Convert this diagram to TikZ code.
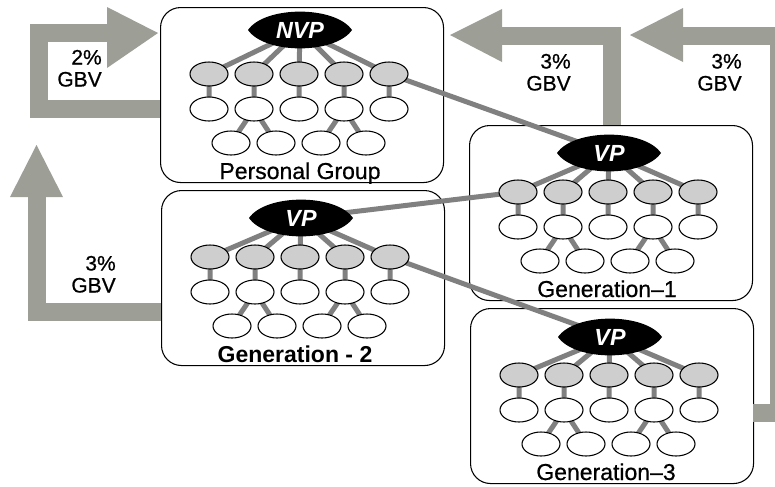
\documentclass[tikz,border=0pt]{standalone}
\usepackage{fontspec}
\setmainfont{Liberation Sans}
\newfontfamily\heavyfont[FakeBold=0.7]{Liberation Sans}
\usetikzlibrary{shapes.geometric}
\pgfdeclarelayer{boxes}
\pgfdeclarelayer{links}
\pgfsetlayers{boxes,links,main}
\definecolor{bandgray}{RGB}{157,158,150}
\definecolor{linkgray}{RGB}{128,128,128}
\definecolor{nodegray}{RGB}{206,206,206}
\newcommand\mytree[7]{%
 \begin{scope}[shift={(#2,#3)}]
  \begin{pgfonlayer}{boxes}
   \node[groupbox] (#1box) at (0,0) {};
  \end{pgfonlayer}
  \begin{scope}[shift={(140,#7)}]
   \fill[black] (-52,0) .. controls (-35,-24.5) and (35,-24.5) .. (52,0)
                        .. controls (35,24.5) and (-35,24.5) .. cycle;
  \end{scope}
  \node[vpnode] (#1vp) at (140,#7) {#4};
  \foreach \k in {1,...,5} {
    \node[graynode] (#1g\k) at ({4+45*\k},67) {};
    \node[whitenode] (#1w\k) at ({4+45*\k},102) {};
  }
  \foreach \k in {1,...,4} {\node[whitenode] (#1t\k) at ({26+45*\k},136) {};}
  \node[grouplabel] (#1lab) at (#6,172) {#5};
  \begin{pgfonlayer}{links}
   \foreach \k in {1,...,5} {\draw[link] (#1vp.center) -- (#1g\k.center) (#1g\k.center) -- (#1w\k.center);}
   \draw[link] (#1w2.center) -- (#1t1.center) (#1w2.center) -- (#1t2.center)
               (#1w4.center) -- (#1t3.center) (#1w4.center) -- (#1t4.center);
  \end{pgfonlayer}
 \end{scope}}
\begin{document}
\begin{tikzpicture}[x=0.75pt,y=-0.75pt,
  groupbox/.style={draw=black,line width=0.8pt,rounded corners=15pt,minimum width=212.25pt,minimum height=131.25pt,anchor=north west,inner sep=0pt},
  vpnode/.style={ellipse,minimum width=76.5pt,minimum height=27pt,inner sep=0pt,text=white,font=\fontsize{17.5pt}{18pt}\selectfont\bfseries\itshape},
  graynode/.style={ellipse,draw=black,line width=0.8pt,fill=nodegray,minimum width=28.5pt,minimum height=18pt,inner sep=0pt},
  whitenode/.style={ellipse,draw=black,line width=0.8pt,fill=white,minimum width=28.5pt,minimum height=18pt,inner sep=0pt},
  link/.style={draw=linkgray,line width=3.75pt},
  grouplabel/.style={anchor=base,inner sep=0pt,font=\heavyfont\fontsize{17.25pt}{18pt}\selectfont},
  band/.style={draw=bandgray,line width=13.5pt},
  head/.style={fill=bandgray},
  gbv/.style={align=right,anchor=south east,inner sep=0pt,font=\heavyfont\fontsize{15.75pt}{16.5pt}\selectfont}]
\useasboundingbox (0,0) rectangle (775,486);
\clip (0,0) rectangle (775,486);

\mytree{pg}{160}{7}{NVP}{Personal Group}{140}{23}
\mytree{gb}{161}{190}{VP}{\setmainfont{Liberation Sans}\fontsize{17.25pt}{18pt}\selectfont\bfseries Generation - 2}{134}{28}
\mytree{ga}{469}{125}{VP}{Generation–1}{138}{28}
\mytree{gc}{470}{308}{VP}{Generation–3}{136}{29}

\begin{pgfonlayer}{links}
  \draw[link] (pgg5.center) -- (gavp.center);
  \draw[link] (gbvp.center) -- (gag1.center);
  \draw[link] (gbg5.center) -- (gcvp.center);
\end{pgfonlayer}

% arrow 1: 2% GBV
\coordinate (a1s) at (160,109);
\coordinate (a1e) at (107,32.5);
\draw[band] (a1s) -- (39,109) -- (39,32.5) -- (a1e);
\fill[head] (107,7) -- (107,68) -- (158,33) -- cycle;
\node[gbv] (l1) at (102,87) {2\%\\GBV};

% arrow 2: 3% GBV left
\coordinate (a2s) at (161,312);
\coordinate (a2e) at (36.5,197);
\draw[band] (a2s) -- (36.5,312) -- (a2e);
\fill[head] (10,197) -- (63,197) -- (36.5,145) -- cycle;
\node[gbv] (l2) at (116,293) {3\%\\GBV};

% arrow 3: 3% GBV middle
\coordinate (a3s) at (611.5,125);
\coordinate (a3e) at (502,36);
\draw[band] (a3s) -- (611.5,36) -- (a3e);
\fill[head] (502,9) -- (502,62) -- (450,35) -- cycle;
\node[gbv] (l3) at (571,91) {3\%\\GBV};

% arrow 4: 3% GBV right
\coordinate (a4s) at (753,413);
\coordinate (a4e) at (683,36);
\draw[band] (a4s) -- (779,413) -- (779,36) -- (a4e);
\fill[head] (683,8) -- (683,62) -- (630,35) -- cycle;
\node[gbv] (l4) at (742,91) {3\%\\GBV};
\end{tikzpicture}
\end{document}
